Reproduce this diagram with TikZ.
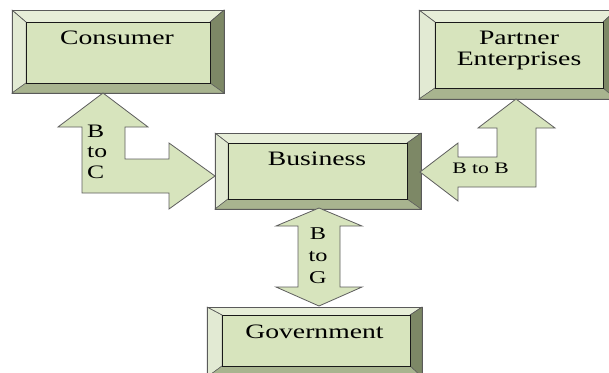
\documentclass[tikz,border=0pt]{standalone}
\usepackage{fontspec}
\setmainfont[FakeStretch=1.35]{Liberation Serif}
\definecolor{boxfill}{HTML}{D7E4BD}
\definecolor{beveltop}{HTML}{E7EED8}
\definecolor{bevelleft}{HTML}{E2EAD3}
\definecolor{bevelright}{HTML}{7D8866}
\definecolor{bevelbottom}{HTML}{A8B48F}
\definecolor{edgegray}{HTML}{5A5A5A}
\definecolor{arrowedge}{HTML}{5E5E5E}
\tikzset{
  boxtext/.style={font=\fontsize{20.5}{21}\selectfont, inner sep=0pt, text=black, align=center},
  arrowtext/.style={font=\fontsize{19}{21}\selectfont, inner sep=0pt, text=black},
  blockarrow/.style={fill=boxfill, draw=arrowedge, line width=0.8pt, line join=miter},
  bevelpart/.style={draw=edgegray, line width=0.5pt, line join=miter},
}
% \bevelbox{x1}{y1}{x2}{y2}{ix1}{iy1}{ix2}{iy2}
\newcommand{\bevelbox}[8]{%
  \fill[beveltop] (#1,#2) rectangle (#3,#4);
  \filldraw[bevelpart, fill=bevelleft] (#1,#2) -- (#5,#6) -- (#5,#8) -- (#1,#4) -- cycle;
  \filldraw[bevelpart, fill=bevelright] (#3,#2) -- (#7,#6) -- (#7,#8) -- (#3,#4) -- cycle;
  \filldraw[bevelpart, fill=bevelbottom] (#1,#4) -- (#5,#8) -- (#7,#8) -- (#3,#4) -- cycle;
  \draw[bevelpart] (#1,#2) -- (#5,#6) (#3,#2) -- (#7,#6);
  \filldraw[fill=boxfill, draw=black!90, line width=0.9pt] (#5,#6) rectangle (#7,#8);
  \draw[edgegray, line width=0.8pt] (#1,#2) rectangle (#3,#4);
}
\begin{document}
\begin{tikzpicture}[x=1pt,y=-1pt]
\useasboundingbox (0,0) rectangle (609,372);
\clip (0,0) rectangle (609,372);
\fill[white] (0,0) rectangle (609,372);

% boxes
\bevelbox{12}{10}{224}{93}{26}{22}{210}{83}
\bevelbox{215}{133}{421}{209}{228}{143}{407}{199}
\bevelbox{419}{10}{616}{99}{435}{22}{603}{88}
\bevelbox{207}{307}{422}{377}{222}{315}{410}{366}

\node[boxtext, anchor=base] (consumer) at (117,44) {Consumer};
\node[boxtext, anchor=base] (business) at (317,165) {Business};
\node[boxtext, anchor=base] (partner) at (519,65) {Partner\\Enterprises};
\node[boxtext, anchor=base] (government) at (314.5,338) {Government};

% B to C bent double arrow
\filldraw[blockarrow] (103,93) -- (148,127) -- (125,127) -- (125,159) -- (169,159)
  -- (169,143) -- (215,176) -- (169,209) -- (169,193) -- (82,193) -- (82,127)
  -- (58,127) -- cycle;
% B to B bent double arrow
\filldraw[blockarrow] (420,172) -- (458,143) -- (458,157) -- (497,157) -- (497,128)
  -- (478,128) -- (516,99) -- (555,128) -- (536,128) -- (536,187) -- (458,187)
  -- (458,201) -- cycle;
% B to G vertical double arrow
\filldraw[blockarrow] (319,208) -- (362,226) -- (340,226) -- (340,287) -- (362,287)
  -- (319,306) -- (276,287) -- (298,287) -- (298,226) -- (276,226) -- cycle;

\node[arrowtext, anchor=base west, align=left, font=\fontsize{19}{20.5}\selectfont] (btoc) at (87,178) {B\\to\\C};
\node[arrowtext, anchor=base, align=center, font=\fontsize{18}{22}\selectfont] (btog) at (318,283) {B\\to\\G};
\node[arrowtext, anchor=base, font=\fontsize{16}{18}\selectfont] (btob) at (480.5,173) {B to B};
\end{tikzpicture}
\end{document}
